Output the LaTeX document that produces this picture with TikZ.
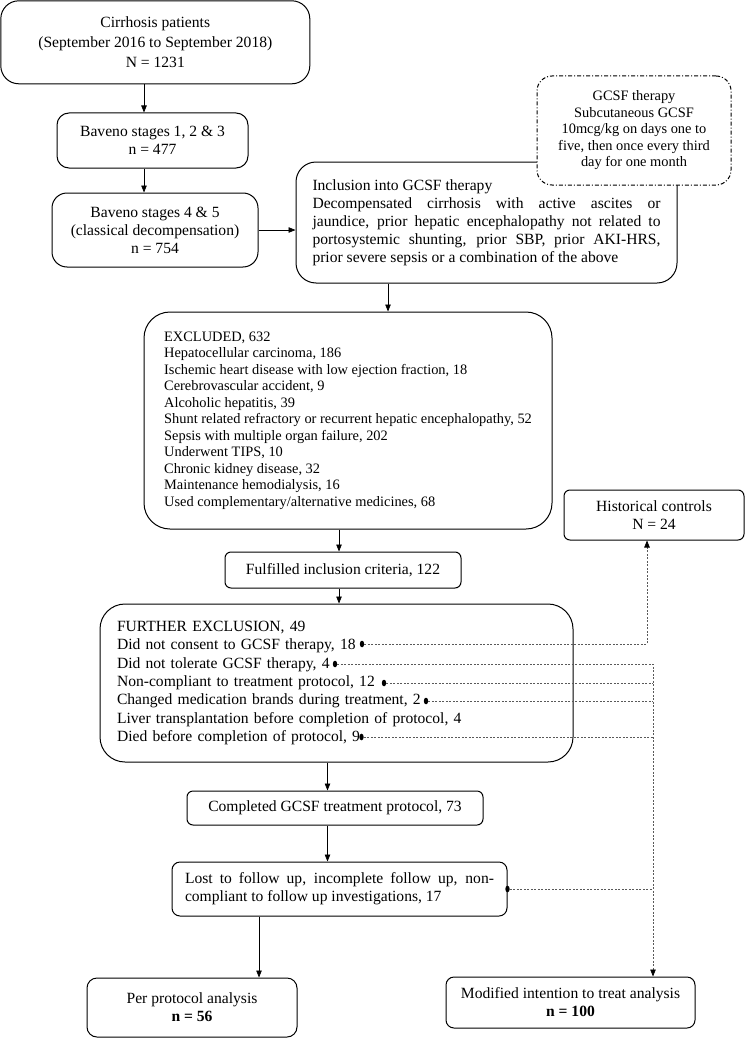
\documentclass[tikz,border=0pt]{standalone}
\usepackage{fontspec}
\setmainfont{Liberation Serif}
\usetikzlibrary{arrows.meta,shapes.geometric}
\begin{document}
\begin{tikzpicture}[x=1pt,y=-1pt,
  box/.style={draw, line width=1pt, inner sep=0pt, align=center, font=\fontsize{15.6}{18}\selectfont},
  sm/.style={font=\fontsize{14.4}{16.5}\selectfont},
  arr/.style={line width=0.7pt, -{Triangle[length=7pt,width=5.5pt]}},
  dots/.style={draw=black!65, line width=0.7pt, dash pattern=on 2pt off 1.5pt},
  darr/.style={dots, -{Triangle[length=7pt,width=5.5pt,color=black]}},
  pin/.style={ellipse, fill=black, inner sep=0pt, minimum width=4.4pt, minimum height=6.6pt}
]
\useasboundingbox (0,0) rectangle (746,1038);

\node[box, rounded corners=18pt, minimum width=309pt, minimum height=83pt, font=\fontsize{15.6}{20}\selectfont] (top) at (155.3,42.3)
  {Cirrhosis patients\\(September 2016 to September 2018)\\N = 1231};
\node[box, rounded corners=12pt, minimum width=191pt, minimum height=55pt] (b123) at (152.5,140.5)
  {Baveno stages 1, 2 \& 3\\n = 477};
\node[box, rounded corners=15pt, minimum width=206pt, minimum height=74pt] (b45) at (155,230)
  {Baveno stages 4 \& 5\\(classical decompensation)\\n = 754};

\node[box, rounded corners=20pt, minimum width=381pt, minimum height=121pt, text width=348pt, align=justify] (incl) at (486.5,222.5)
  {Inclusion into GCSF therapy\\Decompensated cirrhosis with active ascites or\linebreak jaundice, prior hepatic encephalopathy not related to\linebreak portosystemic shunting, prior SBP, prior AKI-HRS,\linebreak prior severe sepsis or a combination of the above};

\node[box, rounded corners=15pt, fill=white, dash pattern=on 4pt off 2pt on 1pt off 2pt, minimum width=194pt, minimum height=109pt, sm] (gcsf) at (634,130.5)
  {GCSF therapy\\Subcutaneous GCSF\\10mcg/kg on days one to\\five, then once every third\\day for one month};

\node[box, rounded corners=26pt, minimum width=408pt, minimum height=217pt, align=left, sm] (excl) at (348,420.5)
  {EXCLUDED, 632\\Hepatocellular carcinoma, 186\\Ischemic heart disease with low ejection fraction, 18\\Cerebrovascular accident, 9\\Alcoholic hepatitis, 39\\Shunt related refractory or recurrent hepatic encephalopathy, 52\\Sepsis with multiple organ failure, 202\\Underwent TIPS, 10\\Chronic kidney disease, 32\\Maintenance hemodialysis, 16\\Used complementary/alternative medicines, 68};

\node[box, rounded corners=6pt, minimum width=236pt, minimum height=36pt] (ful) at (343,570)
  {Fulfilled inclusion criteria, 122};

\node[box, rounded corners=6pt, minimum width=180pt, minimum height=50pt] (hist) at (654,515)
  {Historical controls\\N = 24};

\node[box, rounded corners=25pt, minimum width=473pt, minimum height=158pt, text width=439pt, align=left, font=\fontsize{15.6}{18.3}\selectfont] (fur) at (336.5,683)
  {FURTHER EXCLUSION, 49\\Did not consent to GCSF therapy, 18\\Did not tolerate GCSF therapy, 4\\Non-compliant to treatment protocol, 12\\Changed medication brands during treatment, 2\\Liver transplantation before completion of protocol, 4\\Died before completion of protocol, 9};

\node[box, rounded corners=6pt, minimum width=296pt, minimum height=34pt] (comp) at (335,808)
  {Completed GCSF treatment protocol, 73};

\node[box, rounded corners=8pt, minimum width=335pt, minimum height=54pt, text width=309pt, align=justify] (lost) at (339.5,889)
  {Lost to follow up, incomplete follow up, non-\linebreak compliant to follow up investigations, 17};

\node[box, rounded corners=10pt, minimum width=210pt, minimum height=59pt] (pp) at (192,1007.5)
  {Per protocol analysis\\\textbf{n = 56}};
\node[box, rounded corners=8pt, minimum width=249pt, minimum height=51pt] (mitt) at (570.5,1002.5)
  {Modified intention to treat analysis\\\textbf{n = 100}};

% dots
\node[pin] (d1) at (362,644) {};
\node[pin] (d2) at (335,664) {};
\node[pin] (d3) at (384,683) {};
\node[pin] (d4) at (426,701) {};
\node[pin] (d5) at (361.5,737) {};
\node[pin] (d6) at (lost.east) {};

% helper x positions
\coordinate (x1) at (144,0);
\coordinate (x2) at (388,0);
\coordinate (x3) at (339,0);
\coordinate (x4) at (327.5,0);
\coordinate (x6) at (259,0);
\coordinate (xh) at (647,0);
\coordinate (xm) at (653,0);

% solid arrows
\draw[arr] (top.south -| x1) -- (b123.north -| x1);
\draw[arr] (b123.south -| x1) -- (b45.north -| x1);
\draw[arr] (b45.east) -- (b45.east -| incl.west);
\draw[arr] (incl.south -| x2) -- (excl.north -| x2);
\draw[arr] (excl.south -| x3) -- (ful.north -| x3);
\draw[arr] (ful.south -| x3) -- (fur.north -| x3);
\draw[arr] (fur.south -| x4) -- (comp.north -| x4);
\draw[arr] (comp.south -| x4) -- (lost.north -| x4);
\draw[arr] (lost.south -| x6) -- (pp.north -| x6);

% dotted connectors
\draw[darr] (d1.east) -- (d1.east -| xh) -- (hist.south -| xh);
\draw[darr] (d2.east) -- (d2.east -| xm) -- (mitt.north -| xm);
\draw[dots] (d3.east) -- (d3.east -| xm);
\draw[dots] (d4.east) -- (d4.east -| xm);
\draw[dots] (d5.east) -- (d5.east -| xm);
\draw[dots] (d6.east) -- (d6.east -| xm);
\end{tikzpicture}
\end{document}
